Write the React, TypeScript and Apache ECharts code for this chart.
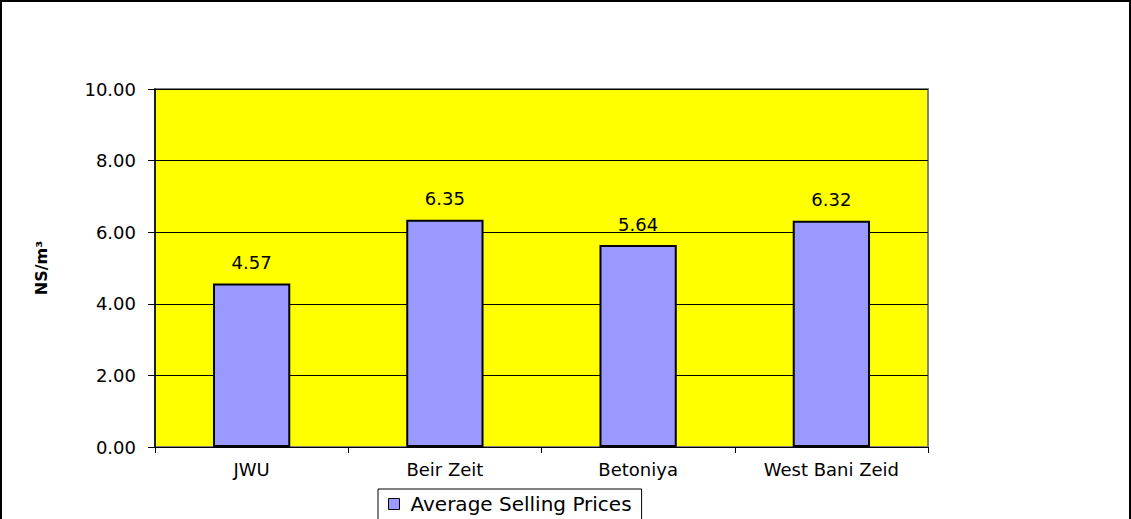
import React, { useEffect, useRef } from "react";
import * as echarts from "echarts";

const categories = ["JWU", "Beir Zeit", "Betoniya", "West Bani Zeid"];
const values = [4.57, 6.35, 5.64, 6.32];
const seriesName = "Average Selling Prices";
const yAxisName = "NS/m³";

export default function App() {
  const ref = useRef<HTMLDivElement>(null);
  useEffect(() => {
    const chart = echarts.init(ref.current!, null, { renderer: "svg" });
    const font = "DejaVu Sans, Liberation Sans, Arial, sans-serif";
    chart.setOption({
      animation: false,
      backgroundColor: "#ffffff",
      textStyle: { fontFamily: font },
      graphic: [
        {
          type: "rect",
          shape: { x: 1, y: 1, width: 1129, height: 520 },
          style: { fill: "none", stroke: "#000", lineWidth: 2 },
          z: 100,
        },
      ],
      grid: {
        left: 155,
        top: 89,
        right: 203,
        bottom: 72,
        show: true,
        backgroundColor: "#ffff00",
        borderColor: "#808080",
        borderWidth: 2,
      },
      legend: {
        data: [seriesName],
        left: 378,
        top: 489,
        orient: "horizontal",
        borderColor: "#000",
        borderWidth: 1,
        padding: [5, 10, 8, 10],
        itemWidth: 11,
        itemHeight: 11,
        itemGap: 6,
        icon: "rect",
        itemStyle: { borderColor: "#000", borderWidth: 1 },
        textStyle: { fontSize: 20, color: "#000", fontFamily: font, padding: [0, 0, 0, 6] },
      },
      xAxis: {
        type: "category",
        data: categories,
        boundaryGap: true,
        axisLine: { show: true, lineStyle: { color: "#000", width: 1 } },
        axisTick: { show: true, length: 6, alignWithLabel: false, lineStyle: { color: "#000" } },
        axisLabel: { fontSize: 18, color: "#000", margin: 13, fontFamily: font },
        splitLine: { show: false },
      },
      yAxis: {
        type: "value",
        min: 0,
        max: 10,
        interval: 2,
        name: yAxisName,
        nameLocation: "middle",
        nameGap: 106,
        nameTextStyle: { fontSize: 16, fontWeight: "bold", color: "#000", fontFamily: font },
        axisLine: { show: true, lineStyle: { color: "#000", width: 1.5 } },
        axisTick: { show: true, length: 7, lineStyle: { color: "#000" } },
        axisLabel: {
          fontSize: 18,
          color: "#000",
          margin: 19,
          fontFamily: font,
          formatter: (v: number) => v.toFixed(2),
        },
        splitLine: { show: true, lineStyle: { color: "#000", width: 1 } },
      },
      series: [
        {
          name: seriesName,
          type: "bar",
          data: values,
          barWidth: "40%",
          itemStyle: { color: "#9999ff", borderColor: "#000", borderWidth: 2 },
          label: {
            show: true,
            position: "top",
            distance: 12,
            fontSize: 18,
            color: "#000",
            fontFamily: font,
            formatter: (p: any) => Number(p.value).toFixed(2),
          },
        },
      ],
    });
    return () => chart.dispose();
  }, []);
  return (
    <div
      ref={ref}
      style={{ position: "fixed", left: 0, top: 0, width: 1131, height: 519 }}
    />
  );
}
